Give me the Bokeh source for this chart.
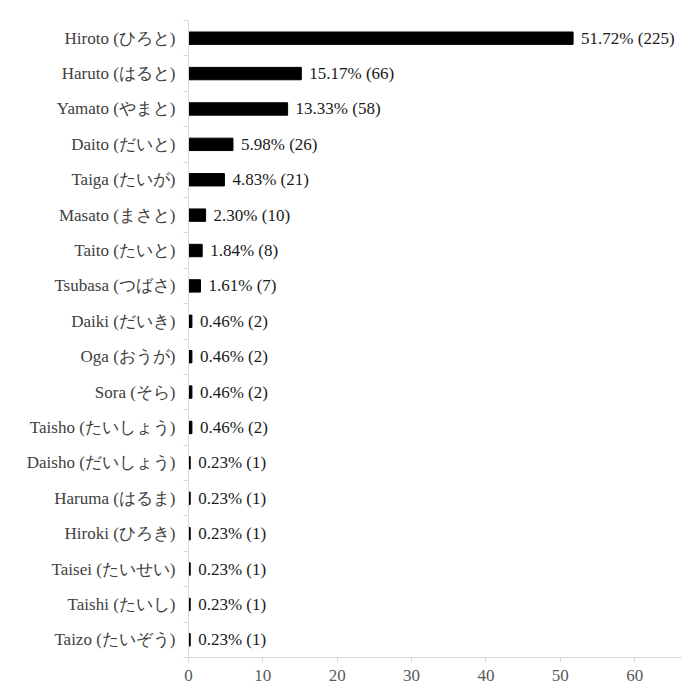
from bokeh.plotting import figure
from bokeh.models import ColumnDataSource, FixedTicker
from bokeh.core.properties import value
from bokeh.embed import file_html
from bokeh.resources import INLINE

names = ["Hiroto (ひろと)", "Haruto (はると)", "Yamato (やまと)", "Daito (だいと)",
         "Taiga (たいが)", "Masato (まさと)", "Taito (たいと)", "Tsubasa (つばさ)",
         "Daiki (だいき)", "Oga (おうが)", "Sora (そら)", "Taisho (たいしょう)",
         "Daisho (だいしょう)", "Haruma (はるま)", "Hiroki (ひろき)", "Taisei (たいせい)",
         "Taishi (たいし)", "Taizo (たいぞう)"]
percents = [51.72, 15.17, 13.33, 5.98, 4.83, 2.30, 1.84, 1.61,
            0.46, 0.46, 0.46, 0.46, 0.23, 0.23, 0.23, 0.23, 0.23, 0.23]
counts = [225, 66, 58, 26, 21, 10, 8, 7, 2, 2, 2, 2, 1, 1, 1, 1, 1, 1]
x_ticks = [0, 10, 20, 30, 40, 50, 60]

FONT = "Liberation Serif"

pos = list(range(len(names)))
source = ColumnDataSource(data=dict(
    y=pos,
    pct=percents,
    label=["%.2f%% (%d)" % (p, c) for p, c in zip(percents, counts)],
))

# x range a bit past 65 so the top label is not clipped
p = figure(width=692, height=692, output_backend="svg", toolbar_location=None,
           x_range=(0, 66.3), y_range=(len(names) - 0.5, -0.5),
           min_border_left=188, min_border_right=11,
           min_border_top=20, min_border_bottom=35)
p.outline_line_color = None
p.grid.grid_line_color = None
p.background_fill_color = "white"

p.hbar(y="y", right="pct", left=0, height=0.35, source=source,
       fill_color="black", line_color="black")
p.text(x="pct", y="y", text="label", source=source, x_offset=8,
       text_baseline="middle", text_align="left",
       text_font=value(FONT), text_font_size="17px", text_color="#1a1a1a")

p.xaxis.ticker = FixedTicker(ticks=x_ticks)
p.xaxis.axis_line_color = "#d9d9d9"
p.xaxis.major_tick_line_color = "#d9d9d9"
p.xaxis.major_tick_in = 0
p.xaxis.major_tick_out = 5
p.xaxis.minor_tick_line_color = None
p.xaxis.major_label_text_font = FONT
p.xaxis.major_label_text_font_size = "17px"
p.xaxis.major_label_text_color = "#595959"
p.xaxis.major_label_standoff = 7

p.yaxis.ticker = FixedTicker(ticks=pos, minor_ticks=[i + 0.5 for i in range(-1, len(names))])
p.yaxis.major_label_overrides = {i: n for i, n in enumerate(names)}
p.yaxis.axis_line_color = "#d9d9d9"
p.yaxis.major_tick_line_color = None
p.yaxis.minor_tick_line_color = "#d9d9d9"
p.yaxis.minor_tick_in = 0
p.yaxis.minor_tick_out = 5
p.yaxis.major_label_standoff = 7
p.yaxis.major_label_text_font = FONT
p.yaxis.major_label_text_font_size = "17px"
p.yaxis.major_label_text_color = "#404040"

open("out.html", "w").write(file_html(p, INLINE))
